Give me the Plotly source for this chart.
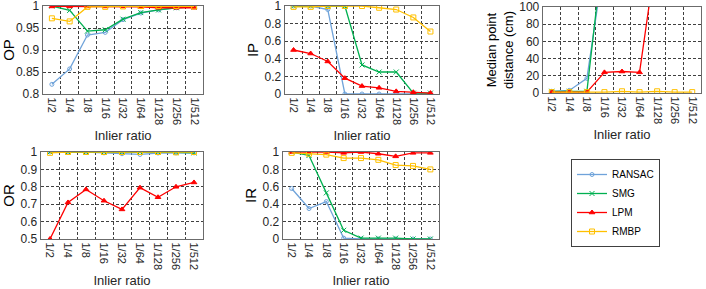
import plotly.graph_objects as go

W, H = 706, 289

categories = ["1/2", "1/4", "1/8", "1/16", "1/32", "1/64", "1/128", "1/256", "1/512"]
methods = ["RANSAC", "SMG", "LPM", "RMBP"]

op_ransac = [0.822, 0.857, 0.934, 0.940, 0.969, 0.984, 0.991, 0.996, 0.998]
op_smg = [1.000, 0.990, 0.943, 0.946, 0.970, 0.985, 0.991, 0.996, 0.998]
op_lpm = [0.999, 0.999, 0.999, 0.999, 0.999, 0.998, 0.996, 0.996, 0.996]
op_rmbp = [0.972, 0.965, 0.998, 0.998, 0.999, 1.000, 1.000, 1.000, 0.999]

ip_ransac = [1.00, 1.00, 0.96, 0.00, 0.00, 0.00, 0.00, 0.00, 0.00]
ip_smg = [1.00, 1.00, 1.00, 1.00, 0.33, 0.25, 0.25, 0.01, 0.01]
ip_lpm = [0.50, 0.46, 0.37, 0.18, 0.09, 0.07, 0.03, 0.02, 0.01]
ip_rmbp = [0.99, 0.99, 1.00, 1.00, 1.00, 0.98, 0.96, 0.87, 0.71]

md_ransac = [2, 3, 17, 155, 250, 300, 300, 300, 300]
md_smg = [2, 2, 2, 180, 250, 300, 300, 300, 300]
md_lpm = [1, 1, 1, 24, 25, 24, 167, 300, 300]
md_rmbp = [1, 1, 1, 1, 2, 1, 2, 1, 1]

or_ransac = [1.000, 1.000, 1.000, 0.995, 0.990, 0.986, 0.994, 0.995, 0.995]
or_smg = [1.000, 1.000, 1.000, 1.000, 1.000, 1.000, 1.000, 0.998, 0.995]
or_lpm = [0.500, 0.710, 0.785, 0.720, 0.670, 0.795, 0.740, 0.800, 0.825]
or_rmbp = [0.995, 1.000, 1.000, 1.000, 1.000, 1.000, 1.000, 0.998, 1.000]

ir_ransac = [0.58, 0.35, 0.43, 0.01, 0.00, 0.00, 0.00, 0.00, 0.00]
ir_smg = [1.00, 0.96, 0.53, 0.10, 0.01, 0.01, 0.01, 0.00, 0.00]
ir_lpm = [1.00, 1.00, 1.00, 0.99, 1.00, 0.98, 0.95, 0.99, 0.99]
ir_rmbp = [0.99, 0.98, 0.97, 0.93, 0.93, 0.91, 0.85, 0.84, 0.80]

op_ticks = [0.8, 0.85, 0.9, 0.95, 1.0]
op_ticktext = ["0.8", "0.85", "0.9", "0.95", "1"]
unit_ticks = [0, 0.2, 0.4, 0.6, 0.8, 1.0]
unit_ticktext = ["0", "0.2", "0.4", "0.6", "0.8", "1"]
md_ticks = [0, 20, 40, 60, 80, 100]
md_ticktext = ["0", "20", "40", "60", "80", "100"]
or_ticks = [0.5, 0.6, 0.7, 0.8, 0.9, 1.0]
or_ticktext = ["0.5", "0.6", "0.7", "0.8", "0.9", "1"]

colors = {"RANSAC": "#6FA3DA", "SMG": "#00B050", "LPM": "#FF0000", "RMBP": "#FFC000"}
symbols = {"RANSAC": "circle-open", "SMG": "x-thin", "LPM": "triangle-up", "RMBP": "square-open"}
msize = {"RANSAC": 4, "SMG": 5, "LPM": 5, "RMBP": 5}

FONT = "Liberation Sans, Arial, sans-serif"
NARROW = "Liberation Sans Narrow, Arial Narrow, Liberation Sans, sans-serif"

panels = [
    # (series, ytitle, yrange, tickvals, ticktext, px box: left, right, top, bottom)
    ((op_ransac, op_smg, op_lpm, op_rmbp), "OP", [0.8, 1.0], op_ticks, op_ticktext, (43, 203, 6, 94)),
    ((ip_ransac, ip_smg, ip_lpm, ip_rmbp), "IP", [0, 1], unit_ticks, unit_ticktext, (285, 439, 6, 94)),
    ((md_ransac, md_smg, md_lpm, md_rmbp), "Median point<br>distance (cm)", [0, 100], md_ticks, md_ticktext, (543, 701, 7, 93)),
    ((or_ransac, or_smg, or_lpm, or_rmbp), "OR", [0.5, 1.0], or_ticks, or_ticktext, (41, 203, 152, 239)),
    ((ir_ransac, ir_smg, ir_lpm, ir_rmbp), "IR", [0, 1], unit_ticks, unit_ticktext, (283, 439, 152, 239)),
]

GRID = "#404040"
DASH = "3px,2px"

fig = go.Figure()
layout = {}
for i, (series, ytitle, yr, tv, tt, box) in enumerate(panels):
    n = "" if i == 0 else str(i + 1)
    l, r, t, b = box
    for m, vals in zip(methods, series):
        fig.add_trace(go.Scatter(
            x=categories, y=vals, name=m, mode="lines+markers",
            xaxis="x" + n, yaxis="y" + n,
            showlegend=(i == 0),
            line=dict(color=colors[m], width=1.3),
            marker=dict(symbol=symbols[m], size=msize[m], color=colors[m],
                        line=dict(color=colors[m], width=1)),
        ))
    layout["xaxis" + n] = dict(
        domain=[l / W, r / W], anchor="y" + n,
        type="category", range=[-0.5, 8.5],
        tickson="boundaries", ticks="", automargin=False,
        tickangle=90, tickfont=dict(size=11, color="#262626", family=NARROW),
        showgrid=True, gridcolor=GRID, griddash=DASH, gridwidth=1,
        showline=True, linecolor="#6b6b6b", linewidth=1.3, mirror=True,
        title=dict(text="Inlier ratio", font=dict(size=13, color="#262626", family=FONT), standoff=7),
        zeroline=False, fixedrange=True,
    )
    layout["yaxis" + n] = dict(
        domain=[1 - b / H, 1 - t / H], anchor="x" + n,
        range=yr, tickmode="array", tickvals=tv, ticktext=tt,
        ticks="", automargin=False, ticklabeloverflow="allow",
        tickfont=dict(size=12, color="#262626", family=FONT),
        showgrid=True, gridcolor=GRID, griddash=DASH, gridwidth=1,
        showline=True, linecolor="#6b6b6b", linewidth=1.3, mirror=True,
        title=dict(text=ytitle, font=dict(size=15 if i != 2 else 13, color="#000000", family=NARROW), standoff=2),
        zeroline=False, fixedrange=True,
    )

fig.update_layout(
    width=W, height=H,
    margin=dict(l=0, r=0, t=0, b=0),
    paper_bgcolor="white", plot_bgcolor="white",
    font=dict(family=FONT, color="#000000"),
    legend=dict(
        x=571 / W, y=1 - 159 / H, xanchor="left", yanchor="top",
        bordercolor="#404040", borderwidth=1, bgcolor="white",
        font=dict(size=10, color="#000000", family=FONT),
        itemwidth=30, tracegroupgap=0,
    ),
    **layout,
)

fig.write_html(
    "out.html",
    config={"displayModeBar": False, "staticPlot": True},
    post_script="document.body.style.margin='0px';document.body.style.overflow='hidden';",
)
